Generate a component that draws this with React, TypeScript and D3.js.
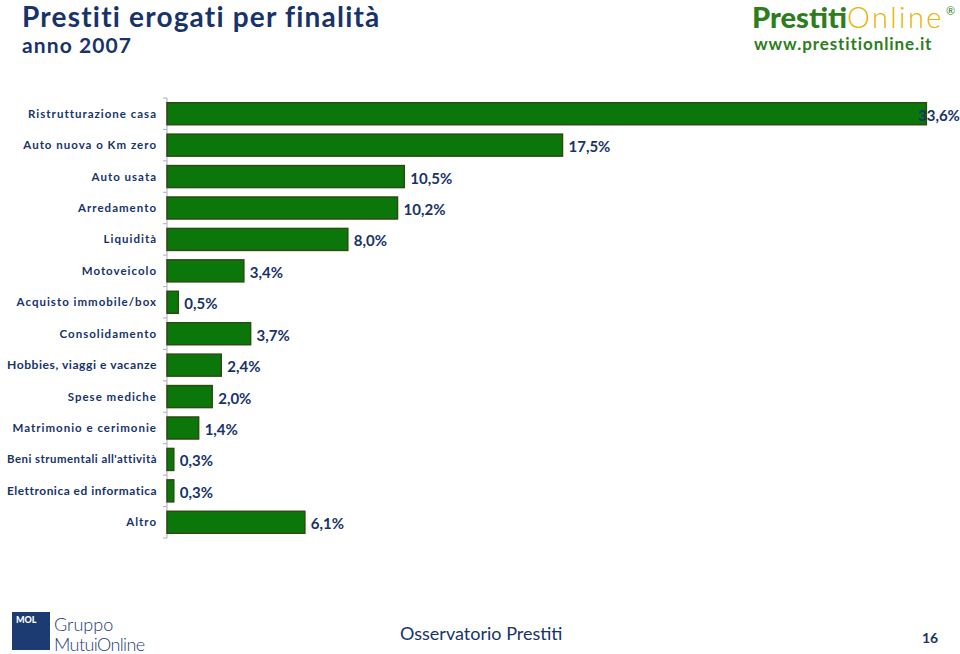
import React, { useEffect, useRef } from 'react';
import * as d3 from 'd3';

const categories = [
  'Ristrutturazione casa',
  'Auto nuova o Km zero',
  'Auto usata',
  'Arredamento',
  'Liquidità',
  'Motoveicolo',
  'Acquisto immobile/box',
  'Consolidamento',
  'Hobbies, viaggi e vacanze',
  'Spese mediche',
  'Matrimonio e cerimonie',
  "Beni strumentali all'attività",
  'Elettronica ed informatica',
  'Altro',
];
const values = [33.6, 17.5, 10.5, 10.2, 8.0, 3.4, 0.5, 3.7, 2.4, 2.0, 1.4, 0.3, 0.3, 6.1];

const NAVY = '#17336a';
const FONT = 'Lato, "DejaVu Sans", sans-serif';

const App = () => {
  const ref = useRef<SVGSVGElement>(null);

  useEffect(() => {
    const W = 960;
    const svg = d3.select(ref.current);
    svg.selectAll('*').remove();

    const x = d3.scaleLinear().domain([0, 35]).range([167, 958]);
    const y = d3.scaleBand().domain(categories).range([98, 538]).paddingInner(0.3).paddingOuter(0.15);

    // titolo
    svg.append('text').attr('x', 22).attr('y', 27).attr('fill', NAVY)
      .style('font', `bold 28px ${FONT}`).style('letter-spacing', '1.2px').text('Prestiti erogati per finalità');
    svg.append('text').attr('x', 22).attr('y', 53).attr('fill', NAVY)
      .style('font', `bold 21px ${FONT}`).style('letter-spacing', '1.1px').text('anno 2007');

    // logo PrestitiOnline
    const logo = svg.append('text').attr('x', 752).attr('y', 28).style('font-family', FONT);
    logo.append('tspan').attr('fill', '#2e7d1c').style('font-weight', '900').style('font-size', '29px').text('Prestiti');
    logo.append('tspan').attr('fill', '#e6b400').style('font-weight', '300').style('font-size', '29px')
      .style('letter-spacing', '2.4px').text('Online');
    svg.append('text').attr('x', 946).attr('y', 15).attr('fill', '#2e7d1c')
      .style('font', `11px ${FONT}`).text('®');
    svg.append('text').attr('x', 754).attr('y', 50).attr('fill', '#2e7d1c')
      .style('font', `bold 17px ${FONT}`).style('letter-spacing', '0.9px').text('www.prestitionline.it');

    // asse
    const g = svg.append('g');
    g.append('line').attr('x1', 167).attr('x2', 167).attr('y1', 98).attr('y2', 538)
      .attr('stroke', '#b0b0b0');
    d3.range(categories.length + 1).forEach(i => {
      const yy = 98 + i * (440 / categories.length);
      g.append('line').attr('x1', 163).attr('x2', 167).attr('y1', yy).attr('y2', yy).attr('stroke', '#b0b0b0');
    });

    g.selectAll('rect.bar').data(values).join('rect')
      .attr('class', 'bar')
      .attr('x', x(0))
      .attr('y', (d, i) => y(categories[i])!)
      .attr('width', d => x(d) - x(0))
      .attr('height', y.bandwidth())
      .attr('fill', '#0b770b')
      .attr('stroke', '#2c4a12')
      .attr('stroke-width', 1.5);

    g.selectAll('text.cat').data(categories).join('text')
      .attr('class', 'cat')
      .attr('x', 157)
      .attr('y', d => y(d)! + y.bandwidth() / 2 + 4)
      .attr('text-anchor', 'end')
      .attr('fill', NAVY)
      .style('font', `bold 11.5px ${FONT}`)
      .style('letter-spacing', '1px')
      .text(d => d)
      .each(function () {
        // le etichette più lunghe vengono compresse come nell'originale
        const t = this as SVGTextElement;
        if (t.getComputedTextLength() > 152) {
          t.style.letterSpacing = '0.5px';
          t.setAttribute('textLength', '150');
          t.setAttribute('lengthAdjust', 'spacingAndGlyphs');
        }
      });

    g.selectAll('text.val').data(values).join('text')
      .attr('class', 'val')
      .attr('x', d => Math.min(x(d) + 6, W - 42))
      .attr('y', (d, i) => y(categories[i])! + y.bandwidth() / 2 + 7)
      .attr('fill', NAVY)
      .style('font', `bold 15px ${FONT}`)
      .text(d => d3.format('.1f')(d).replace('.', ',') + '%');

    // footer
    svg.append('rect').attr('x', 12).attr('y', 612).attr('width', 38).attr('height', 38).attr('fill', '#1c3b72');
    svg.append('text').attr('x', 16).attr('y', 623).attr('fill', '#fff')
      .style('font', `900 9px ${FONT}`).text('MOL');
    svg.append('text').attr('x', 54).attr('y', 631).attr('fill', '#1c3b72')
      .style('font', `300 18px ${FONT}`).text('Gruppo');
    svg.append('text').attr('x', 54).attr('y', 651).attr('fill', '#1c3b72')
      .style('font', `300 18px ${FONT}`).style('letter-spacing', '-0.6px').text('MutuiOnline');
    svg.append('text').attr('x', 400).attr('y', 640).attr('fill', NAVY)
      .style('font', `18px ${FONT}`).text('Osservatorio Prestiti');
    svg.append('text').attr('x', 922).attr('y', 643).attr('fill', NAVY)
      .style('font', `bold 14px ${FONT}`).text('16');
  }, []);

  return (
    <svg ref={ref} width={960} height={654}
      style={{ position: 'absolute', left: 0, top: 0, background: '#fff' }} />
  );
};

export default App;
